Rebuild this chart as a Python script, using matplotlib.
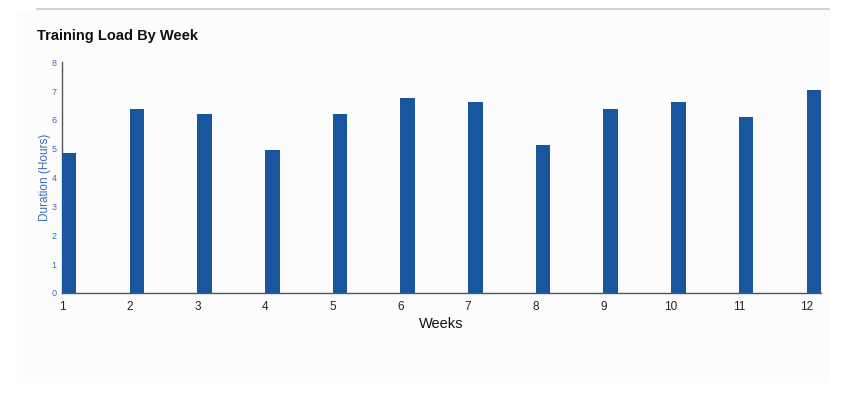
import numpy as np
import matplotlib.pyplot as plt
from matplotlib.patches import Rectangle
from matplotlib.lines import Line2D

plt.rcParams['font.family'] = ['Liberation Sans', 'DejaVu Sans']

# data
weeks = [1, 2, 3, 4, 5, 6, 7, 8, 9, 10, 11, 12]
hours = [4.86, 6.37, 6.21, 4.96, 6.21, 6.76, 6.61, 5.12, 6.37, 6.61, 6.11, 7.03]
yticks = [0, 1, 2, 3, 4, 5, 6, 7, 8]

W, H = 846, 393
fig = plt.figure(figsize=(W/100, H/100), dpi=100)
fig.patch.set_facecolor('white')

# light panel + top rule (drawn behind the axes)
fig.patches.append(Rectangle((17/W, 1 - 383/H), (830-17)/W, (383-10)/H,
                             transform=fig.transFigure, facecolor='#fcfcfc',
                             edgecolor='none', zorder=-5))
fig.lines.append(Line2D([37/W, 829/W], [1 - 9/H, 1 - 9/H], transform=fig.transFigure,
                        color='#cccccc', lw=1.2, zorder=-5))

ax = fig.add_axes([62/W, 1 - 293/H, (821-62)/W, (293-62.3)/H])
ax.set_facecolor('none')

bw = 0.214
ax.bar(weeks, hours, width=bw, align='edge', color='#1a56a0', zorder=3)

ax.set_xlim(1, 12 + bw)
ax.set_ylim(0, 8)
ax.set_xticks(weeks)
ax.set_yticks(yticks)
ax.tick_params(axis='x', length=0, pad=6, labelsize=8.5, labelcolor='#222222')
ax.tick_params(axis='y', length=0, pad=4, labelsize=6.5, labelcolor='#3a6db0')

for s in ['top', 'right']:
    ax.spines[s].set_visible(False)
for s in ['left', 'bottom']:
    ax.spines[s].set_color('#555555')
    ax.spines[s].set_linewidth(1)

ax.set_xlabel('Weeks', fontsize=10.5, color='#111111', labelpad=3)
ax.set_ylabel('Duration (Hours)', fontsize=8.5, color='#3a6db0', labelpad=0)

fig.text(37/W, 1 - 40/H, 'Training Load By Week', fontsize=10.5, fontweight='bold',
         color='#111111', ha='left', va='baseline')

plt.savefig('out.png', dpi=100)
